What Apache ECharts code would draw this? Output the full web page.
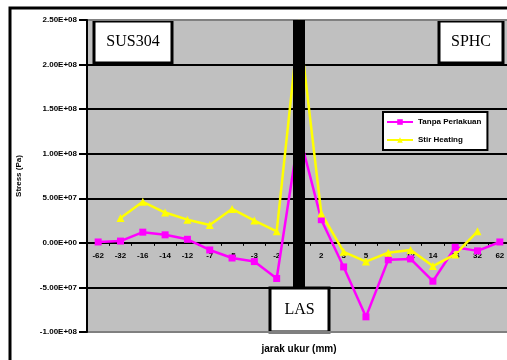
<!DOCTYPE html>
<html>
<head>
<meta charset="utf-8">
<script src="https://cdn.jsdelivr.net/npm/echarts@6/dist/echarts.min.js"></script>
<style>
  html, body { margin: 0; padding: 0; background: #fff; overflow: hidden; }
  #chart { width: 512px; height: 360px; }
</style>
</head>
<body>
<div id="chart"></div>
<script>
// jarak ukur (mm) -- centre slot is the LAS weld line
var categories = ["-62", "-32", "-16", "-14", "-12", "-7", "-5", "-3", "-2", "", "2", "3", "5", "7", "12", "14", "16", "32", "62"];
var tanpaPerlakuan = [1e6, 2e6, 12e6, 9e6, 4e6, -8e6, -17e6, -21e6, -40e6, 123e6, 26e6, -27e6, -83e6, -19e6, -18e6, -43e6, -5e6, -9e6, 1e6];
var stirHeating = [null, 28e6, 46e6, 34e6, 26e6, 20e6, 38e6, 25e6, 13e6, 246e6, 33e6, -10e6, -21e6, -11e6, -8e6, -26e6, -13e6, 13e6, null];
var lasTop = [null, null, null, null, null, null, null, null, null, 2.5e8, null, null, null, null, null, null, null, null, null];
var lasBottom = [null, null, null, null, null, null, null, null, null, -0.5e8, null, null, null, null, null, null, null, null, null];
var yTickLabels = ["-1.00E+08", "-5.00E+07", "0.00E+00", "5.00E+07", "1.00E+08", "1.50E+08", "2.00E+08", "2.50E+08"];
var yMin = -1e8, yMax = 2.5e8, yStep = 5e7;

var gridTop = 20, gridBottom = 28, chartH = 360;
// x axis sits on the zero line: shift it up from the grid bottom
var plotH = chartH - gridTop - gridBottom;
var zeroOffset = -plotH * (0 - yMin) / (yMax - yMin);

var myChart = echarts.init(document.getElementById("chart"));

function labelBox(x, y, w, h, txt) {
  return {
    type: "group", z: 100,
    children: [
      {
        type: "rect",
        shape: { x: x, y: y, width: w, height: h },
        style: { fill: "#fff", stroke: "#000", lineWidth: 3 }
      },
      {
        type: "text",
        x: x + w / 2, y: y + h / 2,
        style: {
          text: txt, fontFamily: "Liberation Serif", fontSize: 16, fill: "#000",
          align: "center", verticalAlign: "middle"
        }
      }
    ]
  };
}

var option = {
  backgroundColor: "#fff",
  animation: false,
  textStyle: { fontFamily: "Liberation Sans" },
  grid: {
    left: 87, right: 1, top: gridTop, bottom: gridBottom,
    outerBoundsMode: "none",
    containLabel: false,
    show: true,
    backgroundColor: "#c0c0c0",
    borderColor: "#808080",
    borderWidth: 2
  },
  legend: {
    data: ["Tanpa Perlakuan", "Stir Heating"],
    orient: "vertical",
    left: 383, top: 112,
    backgroundColor: "#fff",
    borderColor: "#000",
    borderWidth: 2,
    padding: [6, 6, 6, 3],
    itemGap: 10,
    itemWidth: 26,
    itemHeight: 7,
    textStyle: { fontSize: 8, fontWeight: "bold", color: "#000" }
  },
  xAxis: {
    type: "category",
    data: categories,
    position: "bottom",
    offset: zeroOffset,
    name: "jarak ukur (mm)",
    nameLocation: "middle",
    nameGap: 101,
    nameTextStyle: { fontSize: 10, fontWeight: "bold", color: "#000" },
    axisLine: { onZero: false, lineStyle: { color: "#000", width: 2 } },
    axisTick: { show: true, length: 3, lineStyle: { color: "#000" } },
    axisLabel: { fontSize: 8, fontWeight: "bold", color: "#000", margin: 9, interval: 0 },
    splitLine: { show: false }
  },
  yAxis: {
    type: "value",
    min: yMin, max: yMax, interval: yStep,
    name: "Stress (Pa)",
    nameLocation: "middle",
    nameGap: 64,
    nameTextStyle: { fontSize: 8, fontWeight: "bold", color: "#000" },
    axisLine: { show: true, lineStyle: { color: "#000", width: 2 } },
    axisTick: { show: true, length: 8, lineStyle: { color: "#000", width: 2 } },
    axisLabel: {
      fontSize: 8, fontWeight: "bold", color: "#000", margin: 10,
      formatter: function (v) { return yTickLabels[Math.round((v - yMin) / yStep)]; }
    },
    splitLine: {
      lineStyle: { color: ["#808080", "#000", "#000", "#000", "#000", "#000", "#000", "#808080"], width: 2 }
    }
  },
  series: [
    {
      name: "Tanpa Perlakuan",
      type: "line",
      data: tanpaPerlakuan,
      color: "#ff00ff",
      symbol: "rect",
      symbolSize: 7,
      lineStyle: { width: 2.5 },
      z: 2
    },
    {
      name: "Stir Heating",
      type: "line",
      data: stirHeating,
      color: "#ffff00",
      symbol: "triangle",
      symbolSize: 8,
      lineStyle: { width: 2.5 },
      z: 2
    },
    {
      name: "las1",
      type: "bar",
      stack: "las",
      data: lasTop,
      barWidth: 12,
      itemStyle: { color: "#000" },
      z: 4
    },
    {
      name: "las2",
      type: "bar",
      stack: "las",
      data: lasBottom,
      barWidth: 12,
      itemStyle: { color: "#000" },
      z: 4
    }
  ],
  graphic: [
    {
      type: "rect", z: 0, silent: true,
      shape: { x: 10, y: 8, width: 600, height: 400 },
      style: { fill: "none", stroke: "#000", lineWidth: 3 }
    },
    labelBox(94, 21, 78, 42, "SUS304"),
    labelBox(439, 21, 64, 42, "SPHC"),
    labelBox(270, 288, 59, 44, "LAS")
  ]
};

myChart.setOption(option);
</script>
</body>
</html>
